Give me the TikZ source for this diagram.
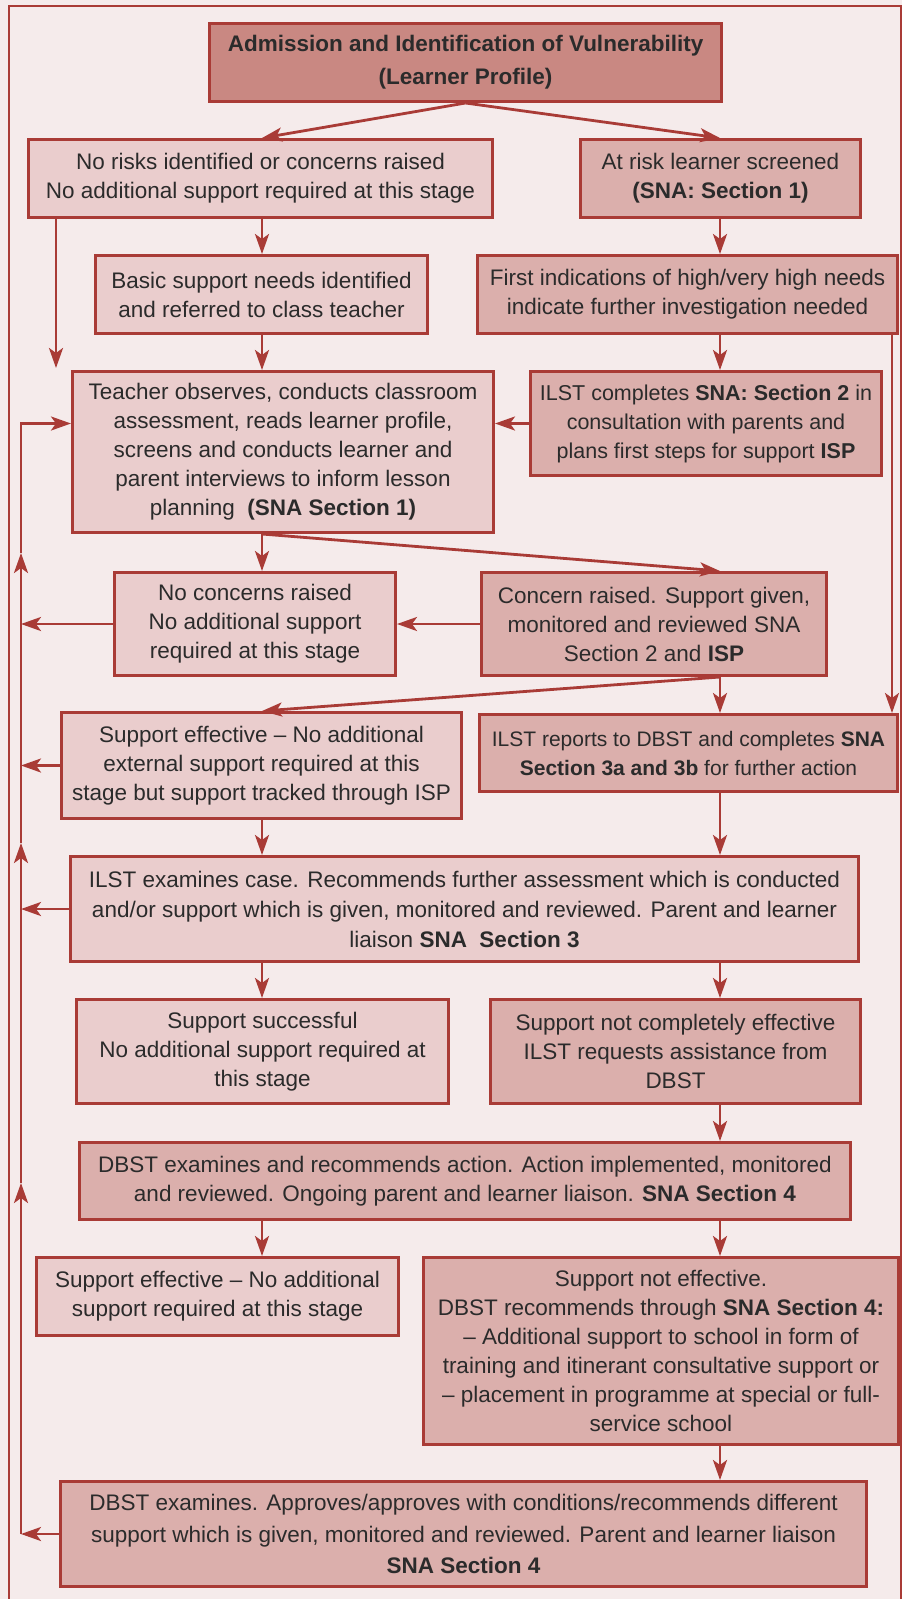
\documentclass[tikz,border=0pt]{standalone}
\usepackage{fontspec}
\setmainfont{Liberation Sans}
\usetikzlibrary{arrows.meta}
\definecolor{frame}{HTML}{A93B36}
\definecolor{paper}{HTML}{F5EBEB}
\definecolor{head}{HTML}{C98882}
\definecolor{pale}{HTML}{EACDCD}
\definecolor{deep}{HTML}{DBAFAC}
\definecolor{ink}{HTML}{2B2B2B}

\begin{document}
\begin{tikzpicture}[x=1pt, y=-1pt,
      every node/.style={draw=frame, line width=3pt, align=center, inner sep=0pt,
        text=ink, font=\fontsize{22.5}{29}\selectfont},
      headbox/.style={fill=head},
      lightbox/.style={fill=pale},
      darkbox/.style={fill=deep},
      flow/.style={draw=frame, line width=2.8pt, -{Stealth[length=20pt, width=14pt, inset=5pt]}},]
      \path[use as bounding box, fill=paper] (0,0) rectangle (902,1599);
      \draw[frame, line width=2pt] (9,1599) -- (9,6) -- (901,6) -- (901,1599);

      \coordinate (lc) at (262,0);
      \coordinate (rc) at (720,0);
      \coordinate (rl) at (892,0);
      \coordinate (fb) at (21,0);
      \coordinate (gap) at (56,368);
      \coordinate (up1) at (21,553);
      \coordinate (up2) at (21,843);
      \coordinate (up3) at (21,1183);

      \node[headbox, minimum width=512pt, minimum height=78pt] (title) at (465.5,62.5)
        {\bfseries Admission and Identification of Vulnerability\\[4pt]\bfseries (Learner Profile)};
      \node[lightbox, minimum width=464pt, minimum height=78pt] (norisk) at (260.5,178.5)
        {No risks identified or concerns raised\\No additional support required at this stage};
      \node[darkbox, minimum width=280pt, minimum height=78pt] (atrisk) at (720.5,178.5)
        {At risk learner screened\\\textbf{(SNA: Section 1)}};
      \node[lightbox, minimum width=332pt, minimum height=78pt] (basic) at (261.5,294.5)
        {Basic support needs identified\\and referred to class teacher};
      \node[darkbox, minimum width=420pt, minimum height=78pt] (first) at (687.5,294.5)
        {First indications of high/very high needs\\indicate further investigation needed};
      \node[lightbox, minimum width=421pt, minimum height=161pt] (teacher) at (283,452)
        {Teacher observes, conducts classroom\\assessment, reads learner profile,\\screens and conducts learner and\\parent interviews to inform lesson\\planning~~\textbf{(SNA Section 1)}};
      \node[darkbox, minimum width=351pt, minimum height=104pt, font=\fontsize{21.5}{29}\selectfont] (ilst2) at (706,423.5)
        {ILST completes \textbf{SNA: Section 2} in\\consultation with parents and\\plans first steps for support \textbf{ISP}};
      \node[lightbox, minimum width=281pt, minimum height=103pt] (noconc) at (255,624)
        {No concerns raised\\No additional support\\required at this stage};
      \node[darkbox, minimum width=345pt, minimum height=103pt] (concern) at (654,624)
        {Concern raised. Support given,\\monitored and reviewed SNA\\Section 2 and \textbf{ISP}};
      \node[lightbox, minimum width=400pt, minimum height=106pt] (supeff) at (261.5,765.5)
        {Support effective -- No additional\\external support required at this\\stage but support tracked through ISP};
      \node[darkbox, minimum width=418pt, minimum height=77pt, font=\fontsize{21}{29}\selectfont] (ilst3) at (688.5,753)
        {ILST reports to DBST and completes \textbf{SNA}\\\textbf{Section 3a and 3b} for further action};
      \node[lightbox, minimum width=788pt, minimum height=105pt, font=\fontsize{22.5}{30}\selectfont] (examine) at (464.5,909)
        {ILST examines case. Recommends further assessment which is conducted\\and/or support which is given, monitored and reviewed. Parent and learner\\liaison \textbf{SNA~~Section 3}};
      \node[lightbox, minimum width=372pt, minimum height=104pt] (success) at (262.5,1051.5)
        {Support successful\\No additional support required at\\this stage};
      \node[darkbox, minimum width=370pt, minimum height=104pt] (notcomp) at (675.5,1051.5)
        {Support not completely effective\\ILST requests assistance from\\DBST};
      \node[darkbox, minimum width=771pt, minimum height=77pt] (dbst) at (465,1181)
        {DBST examines and recommends action. Action implemented, monitored\\and reviewed. Ongoing parent and learner liaison. \textbf{SNA Section 4}};
      \node[lightbox, minimum width=362pt, minimum height=78pt] (effect) at (217.5,1296.5)
        {Support effective -- No additional\\support required at this stage};
      \node[darkbox, minimum width=475pt, minimum height=187pt] (noteff) at (661,1351)
        {Support not effective.\\DBST recommends through \textbf{SNA Section 4:}\\-- Additional support to school in form of\\training and itinerant consultative support or\\-- placement in programme at special or full-\\service school};
      \node[darkbox, minimum width=806pt, minimum height=105pt, font=\fontsize{22.5}{31.5}\selectfont] (review) at (463.5,1534)
        {DBST examines. Approves/approves with conditions/recommends different\\support which is given, monitored and reviewed. Parent and learner liaison\\\textbf{SNA Section 4}};

      \draw[flow] (title.south) -- (norisk.north -| lc);
      \draw[flow] (title.south) -- (atrisk.north -| rc);
      \draw[flow] (norisk.south -| lc) -- (basic.north -| lc);
      \draw[flow] (norisk.south -| gap) -- (gap);
      \draw[flow] (atrisk.south -| rc) -- (first.north -| rc);
      \draw[flow] (basic.south -| lc) -- (teacher.north -| lc);
      \draw[flow] (first.south -| rc) -- (ilst2.north -| rc);
      \draw[flow] (ilst2.west) -- (ilst2.west -| teacher.east);
      \draw[flow] (first.south -| rl) -- (ilst3.north -| rl);
      \draw[flow] (teacher.south -| lc) -- (noconc.north -| lc);
      \draw[flow] (teacher.south -| lc) -- (concern.north -| rc);
      \draw[flow] (concern.west) -- (noconc.east);
      \draw[flow] (noconc.west) -- (noconc.west -| fb);
      \draw[flow] (concern.south -| rc) -- (supeff.north -| lc);
      \draw[flow] (concern.south -| rc) -- (ilst3.north -| rc);
      \draw[flow] (supeff.west) -- (supeff.west -| fb);
      \draw[flow] (supeff.south -| lc) -- (examine.north -| lc);
      \draw[flow] (ilst3.south -| rc) -- (examine.north -| rc);
      \draw[flow] (examine.west) -- (examine.west -| fb);
      \draw[flow] (examine.south -| lc) -- (success.north -| lc);
      \draw[flow] (examine.south -| rc) -- (notcomp.north -| rc);
      \draw[flow] (notcomp.south -| rc) -- (dbst.north -| rc);
      \draw[flow] (dbst.south -| lc) -- (effect.north -| lc);
      \draw[flow] (dbst.south -| rc) -- (noteff.north -| rc);
      \draw[flow] (noteff.south -| rc) -- (review.north -| rc);
      \draw[flow] (review.west) -- (review.west -| fb);
      \draw[flow] (review.west -| fb) -- (up3);
      \draw[flow] (up3) -- (up2);
      \draw[flow] (up2) -- (up1);
      \draw[flow] (up1) -- (fb |- ilst2.west) -- (teacher.west |- ilst2.west);
    \end{tikzpicture}
\end{document}
